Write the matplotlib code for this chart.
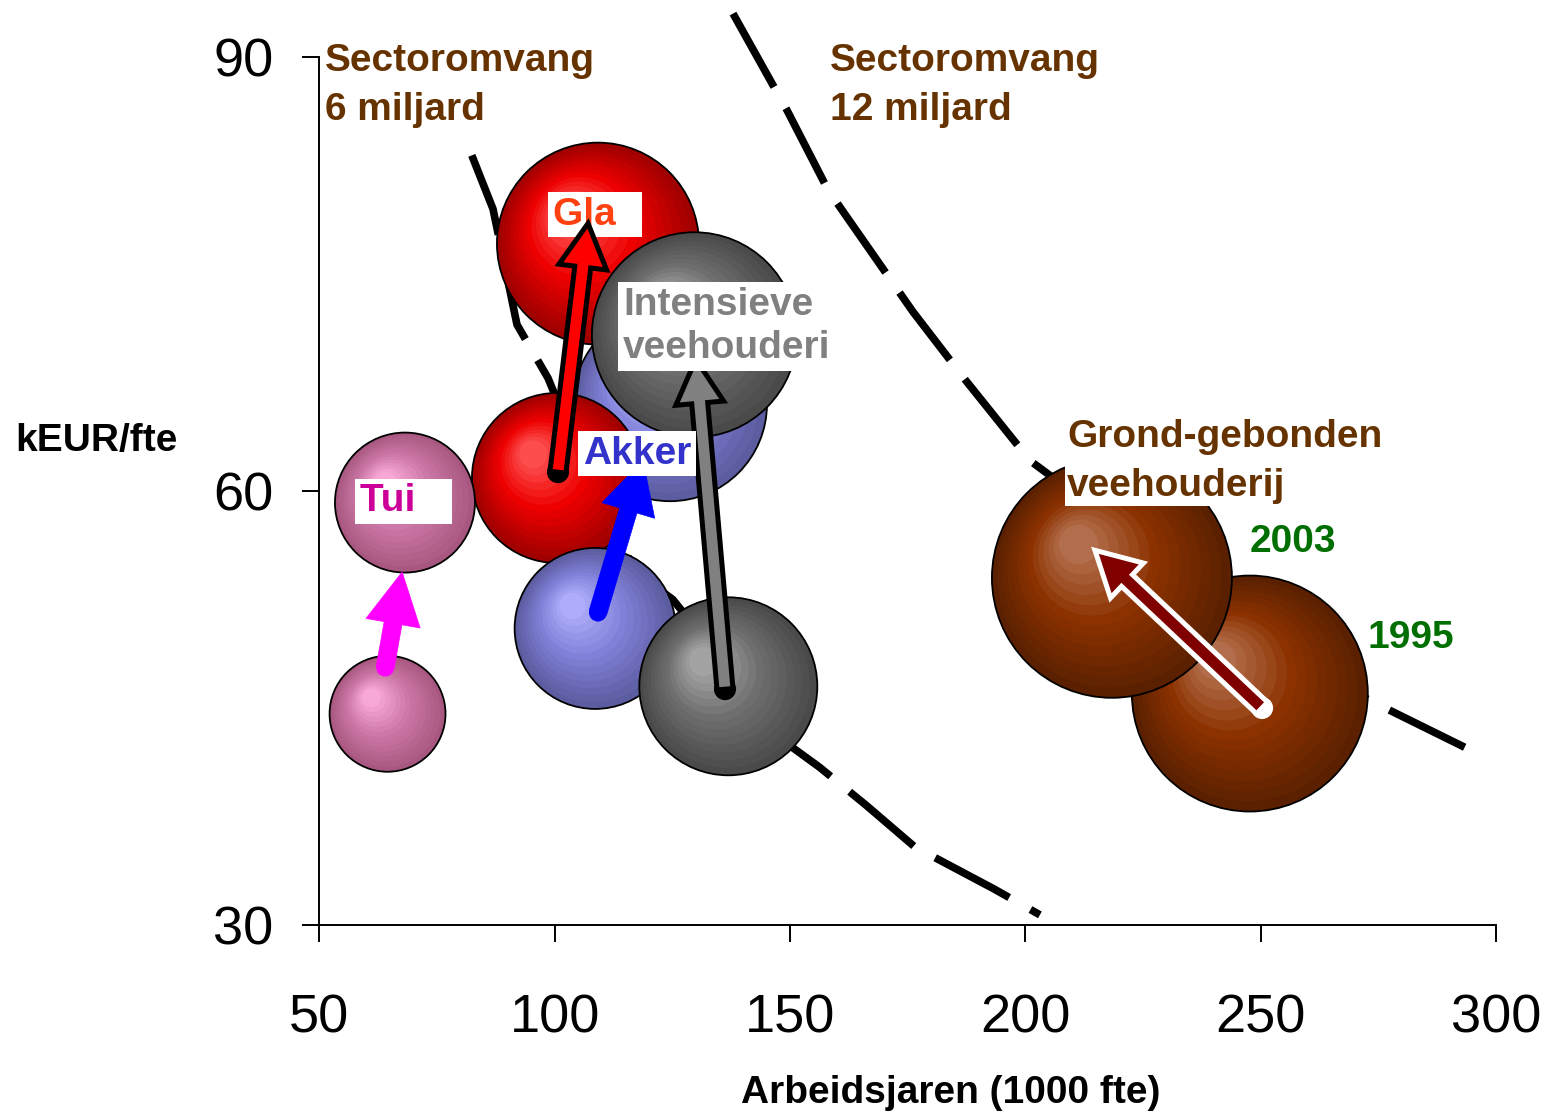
import numpy as np
import matplotlib
matplotlib.use("Agg")
import matplotlib.pyplot as plt
from matplotlib.colors import LinearSegmentedColormap
from matplotlib.patches import FancyArrowPatch, ArrowStyle
from matplotlib.transforms import ScaledTranslation

plt.rcParams['font.family'] = ['Liberation Sans', 'DejaVu Sans']

# =========================
# data

sectors = ["Tui", "Gla", "Akker", "Intensieve veehouderij", "Grond-gebonden veehouderij"]

x_1995 = [64.5, 100.5, 108.6, 136.9, 247.7]
y_1995 = [44.6, 60.9, 50.5, 46.5, 46.0]
size_1995 = [33.6, 72.3, 64.8, 79.2, 139.2]   # relative bubble area

x_2003 = [68.2, 109.2, 124.5, 129.7, 218.4]
y_2003 = [59.2, 77.1, 66.0, 70.8, 54.0]
size_2003 = [49.0, 102.0, 94.1, 105.1, 144.0]

# arrows (start -> tip)
arrow_x0 = [64.0, 100.7, 109.2, 136.2, 250.3]
arrow_y0 = [47.8, 61.3, 51.6, 46.3, 45.0]
arrow_x1 = [67.6, 107.1, 118.8, 130.0, 214.8]
arrow_y1 = [54.4, 78.5, 62.1, 69.1, 55.9]

# iso-lines sector size
curve6_x = [82.4, 86.9, 92.0, 98.6, 111.8, 118.1, 125.1, 150.4, 156.3, 166.1, 176.5, 193.3, 203.1]
curve6_y = [83.2, 79.5, 71.5, 67.8, 57.3, 54.2, 52.5, 42.3, 40.9, 38.3, 35.4, 32.5, 30.7]
curve12_x = [137.9, 149.4, 158.1, 176.1, 187.2, 201.0, 220.0, 245.0, 272.7, 294.5]
curve12_y = [93.0, 86.3, 80.8, 72.4, 67.7, 62.1, 57.5, 51.3, 45.6, 42.1]

xticks = [50, 100, 150, 200, 250, 300]
yticks = [30, 60, 90]

# =========================
# colours: (edge, base, highlight)
shades = [
    ("#a85880", "#cc78a8", "#ffb0dc"),
    ("#a00000", "#ee0000", "#ff5a5a"),
    ("#5c5ca0", "#8080d8", "#b4b4ff"),
    ("#4a4a4a", "#6e6e6e", "#acacac"),
    ("#5a2000", "#8c3200", "#b87858"),
]
arrow_fill = ["#ff00ff", "#ff0000", "#0000ff", "#808080", "#800000"]
arrow_edge = [None, "black", None, "black", "white"]

BROWN = "#663300"
GREEN = "#006e00"
DPI = 100

fig = plt.figure(figsize=(15.51, 11.16), dpi=DPI)
ax = fig.add_axes([319.3/1551, 1-925/1116, (1496-319.3)/1551, (925-57)/1116])
ax.set_xlim(50, 300)
ax.set_ylim(30, 90)


def pt(p):
    return p*72/DPI


def sphere(x, y, area, colors, z):
    r = 10*np.sqrt(area)          # radius in pixels
    cmap = LinearSegmentedColormap.from_list("", [(0, colors[0]), (0.5, colors[1]), (1, colors[2])])
    n = 14
    for k in range(n):
        t = k/n
        rk = r*(1 - 0.9*t)
        off = ScaledTranslation(-0.3*r*t/DPI, 0.3*r*t/DPI, fig.dpi_scale_trans)
        ax.scatter([x], [y], s=(2*pt(rk))**2, color=cmap(t), edgecolors="none",
                   transform=ax.transData + off, zorder=z, clip_on=False)
    ax.scatter([x], [y], s=(2*pt(r))**2, facecolors="none", edgecolors="black",
               linewidths=1.3, zorder=z, clip_on=False)


# sector curves
for cx, cy in [(curve6_x, curve6_y), (curve12_x, curve12_y)]:
    ax.plot(cx, cy, color="black", lw=5.5, dashes=(11, 3.2), clip_on=False,
            solid_joinstyle="miter", zorder=1)

# bubbles, stacking as in the picture
order = [
    (2, 2003, 2), (1, 2003, 3), (1, 1995, 4), (0, 1995, 4), (0, 2003, 4),
    (2, 1995, 5), (3, 1995, 6), (3, 2003, 8), (4, 1995, 4), (4, 2003, 5),
]
for i, yr, z in order:
    if yr == 1995:
        sphere(x_1995[i], y_1995[i], size_1995[i], shades[i], z)
    else:
        sphere(x_2003[i], y_2003[i], size_2003[i], shades[i], z)

# arrows
arrow_z = [9, 7, 9, 9, 9]
for i in range(5):
    if arrow_edge[i] is None:
        style = ArrowStyle.Simple(head_length=pt(52), head_width=pt(55), tail_width=pt(18))
        ec, lw = arrow_fill[i], 0.5
        cap = pt(18)
        capc = arrow_fill[i]
    else:
        style = ArrowStyle.Simple(head_length=pt(44), head_width=pt(48), tail_width=pt(16))
        ec, lw = arrow_edge[i], pt(5)
        cap = pt(22)
        capc = arrow_edge[i]
    ax.scatter([arrow_x0[i]], [arrow_y0[i]], s=cap**2, color=capc, edgecolors="none",
               zorder=arrow_z[i] - 0.1)
    ax.add_patch(FancyArrowPatch((arrow_x0[i], arrow_y0[i]), (arrow_x1[i], arrow_y1[i]),
                                 arrowstyle=style, mutation_scale=1, shrinkA=0, shrinkB=0,
                                 fc=arrow_fill[i], ec=ec, lw=lw, joinstyle="miter",
                                 zorder=arrow_z[i]))

# labels on the bubbles (va=baseline -> last line)
box = dict(boxstyle="square,pad=0.12", fc="white", ec="none")
ax.text(99.65, 78.4, "Gla  ", color="#ff4010", fontsize=28, fontweight="bold",
        va="baseline", bbox=box, zorder=6.5)
ax.text(114.5, 69.2, "Intensieve\nveehouderi", color="#808080", fontsize=28,
        fontweight="bold", va="baseline", linespacing=1.26, bbox=box, zorder=10)
ax.text(106.0, 61.9, "Akker", color="#3333cc", fontsize=28, fontweight="bold",
        va="baseline", bbox=box, zorder=10)
ax.text(58.65, 58.6, "Tui   ", color="#cc0099", fontsize=28, fontweight="bold",
        va="baseline", bbox=box, zorder=10)
ax.text(208.9, 59.65, "Grond-gebonden\nveehouderij", color=BROWN, fontsize=28,
        fontweight="bold", va="baseline", linespacing=1.45,
        bbox=dict(boxstyle="square,pad=0.05", fc="white", ec="none"), zorder=10)
ax.text(247.7, 55.8, "2003", color=GREEN, fontsize=28, fontweight="bold", va="baseline", zorder=10)
ax.text(272.6, 49.15, "1995", color=GREEN, fontsize=28, fontweight="bold", va="baseline", zorder=10)

ax.text(51.2, 85.65, "Sectoromvang\n6 miljard", color=BROWN, fontsize=28,
        fontweight="bold", va="baseline", linespacing=1.45, zorder=10)
ax.text(158.5, 85.65, "Sectoromvang\n12 miljard", color=BROWN, fontsize=28,
        fontweight="bold", va="baseline", linespacing=1.45, zorder=10)

# axes
for s in ["top", "right"]:
    ax.spines[s].set_visible(False)
for s in ["left", "bottom"]:
    ax.spines[s].set_linewidth(1.4)
ax.set_xticks(xticks)
ax.set_yticks(yticks)
ax.tick_params(axis="both", direction="out", length=12, width=1.4, labelsize=39)
ax.tick_params(axis="x", pad=37)
ax.tick_params(axis="y", pad=21)

fig.text(951/1551, 1 - 1103/1116, "Arbeidsjaren (1000 fte)", ha="center", va="baseline",
         fontsize=28, fontweight="bold")
fig.text(15/1551, 1 - 451/1116, "kEUR/fte", ha="left", va="baseline",
         fontsize=28, fontweight="bold")

fig.savefig("out.png", dpi=DPI)
